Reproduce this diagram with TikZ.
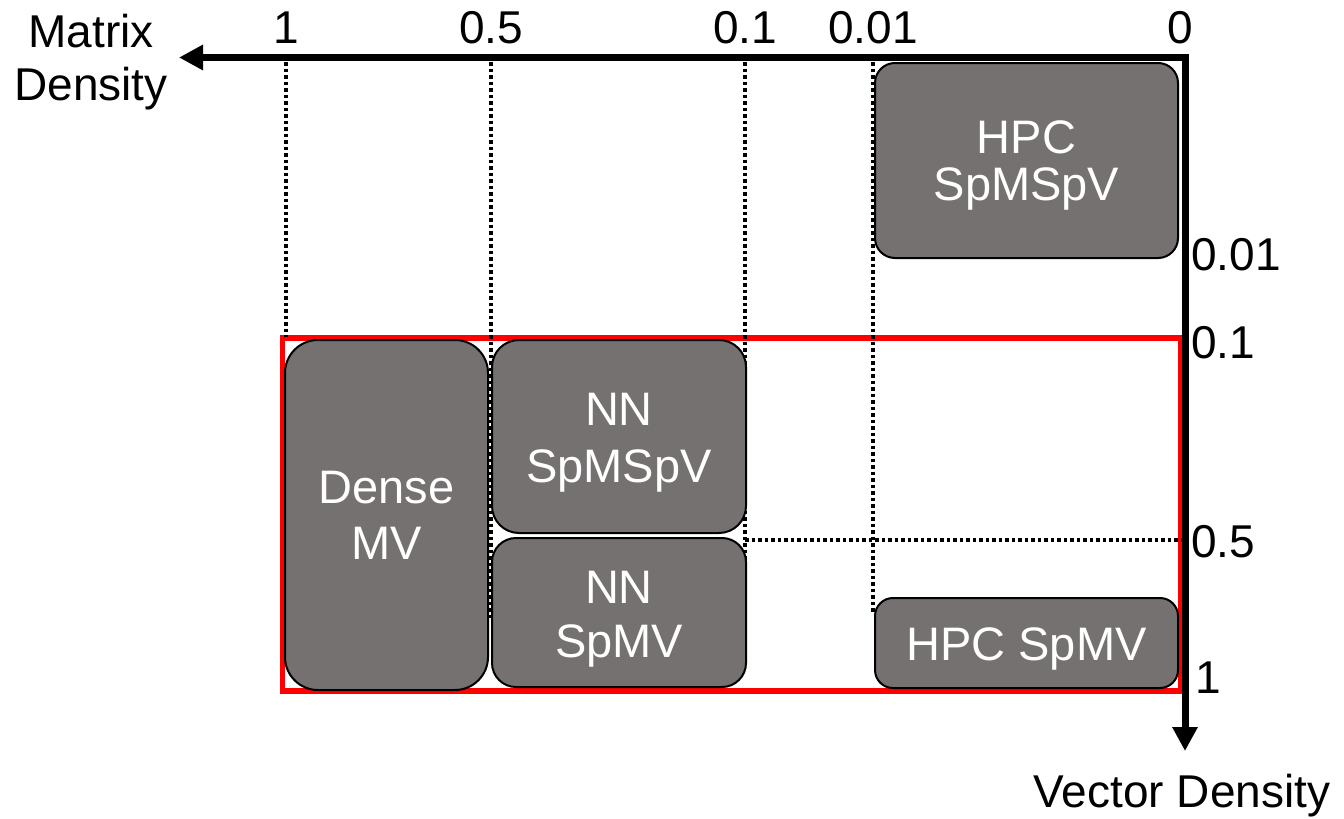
\documentclass[tikz,border=0pt]{standalone}
\usepackage{fontspec}
\setmainfont{Liberation Sans}
\usetikzlibrary{arrows.meta}
\definecolor{boxgray}{HTML}{767171}
\begin{document}
\begin{tikzpicture}[x=1pt,y=-1pt,
  box/.style={draw=black, line width=2pt, fill=boxgray, inner sep=0pt},
  wt/.style={text=white, inner sep=0pt, anchor=base, font=\fontsize{47}{56}\selectfont},
  lbl/.style={text=black, inner sep=0pt, font=\fontsize{46}{55}\selectfont},
  axis/.style={draw=black, line width=7pt, -{Triangle[length=24pt,width=24pt]}},
  dotline/.style={draw=black, line width=3.5pt, dash pattern=on 3.5pt off 3pt},
  redbox/.style={draw=red, line width=5.5pt}
]
\useasboundingbox (0,0) rectangle (1344,819);

% red frame
\draw[redbox] (282.5,338) rectangle (1180.5,691);

% dotted guide lines
\coordinate (t1) at (286,62);   \coordinate (b1) at (286,337);
\coordinate (t5) at (491,62);   \coordinate (b5) at (491,620);
\coordinate (t01) at (745,62);  \coordinate (b01) at (745,620);
\coordinate (t001) at (873,62); \coordinate (b001) at (873,612);
\coordinate (h5a) at (745,540); \coordinate (h5b) at (1181,540);
\draw[dotline] (t1) -- (b1);
\draw[dotline] (t5) -- (b5);
\draw[dotline] (t01) -- (b01);
\draw[dotline] (t001) -- (b001);
\draw[dotline] (h5a) -- (h5b);

% boxes
\node[box, rounded corners=20pt, minimum width=303pt, minimum height=195pt] (hpcsp) at (1026.5,160.5) {};
\node[box, rounded corners=33pt, minimum width=203pt, minimum height=350pt] (dense) at (386.5,515) {};
\node[box, rounded corners=27pt, minimum width=254pt, minimum height=193pt] (nnsp) at (619,436.5) {};
\node[box, rounded corners=24pt, minimum width=254pt, minimum height=149pt] (nnmv) at (619,612.5) {};
\node[box, rounded corners=18pt, minimum width=303pt, minimum height=90pt] (hpcmv) at (1026.5,643) {};

% box texts
\node[wt] (hpcspA) at (1026.5,153) {HPC};
\node[wt] (hpcspB) at (1026.5,200) {SpMSpV};
\node[wt] (denseA) at (386.5,503) {Dense};
\node[wt] (denseB) at (386.5,559) {MV};
\node[wt] (nnspA) at (619,425) {NN};
\node[wt] (nnspB) at (619,482) {SpMSpV};
\node[wt] (nnmvA) at (619,603) {NN};
\node[wt] (nnmvB) at (619,657) {SpMV};
\node[wt] (hpcmvA) at (1026.5,660) {HPC SpMV};

% axes
\coordinate (xo) at (1188.5,57.5);
\coordinate (xe) at (179,57.5);
\coordinate (yo) at (1185,54);
\coordinate (ye) at (1185,751);
\draw[axis] (xo) -- (xe);
\draw[axis] (yo) -- (ye);

% top labels
\node[lbl, anchor=base] (m1) at (286,43) {1};
\node[lbl, anchor=base] (m5) at (491,43) {0.5};
\node[lbl, anchor=base] (m01) at (745,43) {0.1};
\node[lbl, anchor=base] (m001) at (873,43) {0.01};
\node[lbl, anchor=base] (m0) at (1180,43) {0};
\node[lbl, anchor=base] (mtA) at (91,47) {Matrix};
\node[lbl, anchor=base] (mtB) at (91,100) {Density};

% right labels
\node[lbl, anchor=base west] (v001) at (1191,270) {0.01};
\node[lbl, anchor=base west] (v01) at (1191,358) {0.1};
\node[lbl, anchor=base west] (v5) at (1191,557) {0.5};
\node[lbl, anchor=base west] (v1) at (1195,693) {1};
\node[lbl, anchor=base] (vt) at (1182,807) {Vector Density};
\end{tikzpicture}
\end{document}
